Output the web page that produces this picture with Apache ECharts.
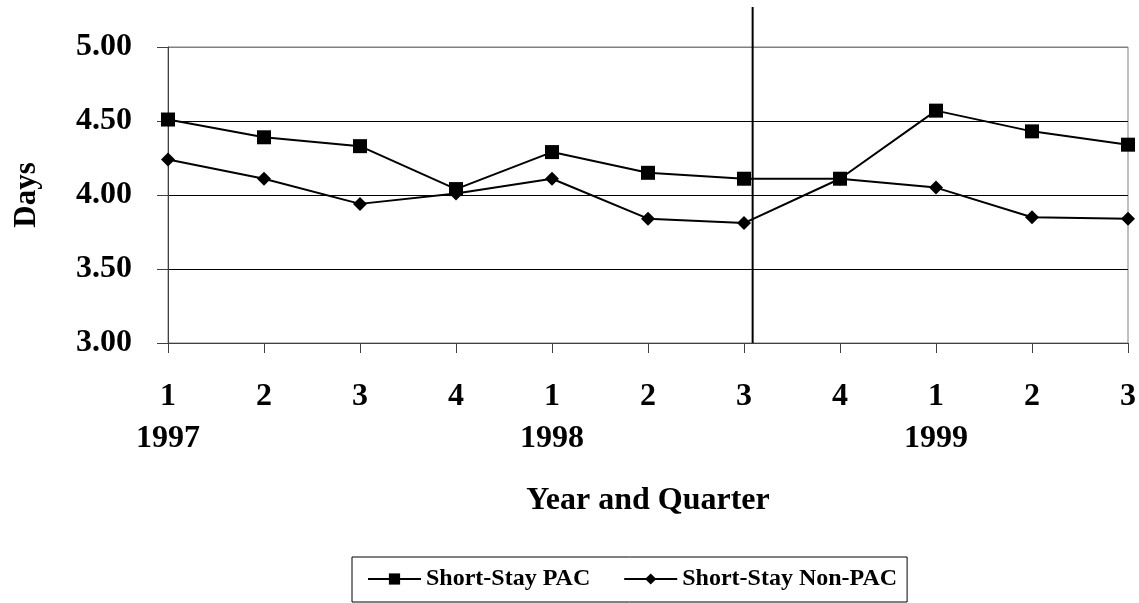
<!DOCTYPE html>
<html>
<head>
<meta charset="utf-8">
<script src="https://cdn.jsdelivr.net/npm/echarts@6/dist/echarts.min.js"></script>
<style>
  html, body { margin: 0; padding: 0; background: #fff; }
  #chart { width: 1139px; height: 603px; }
</style>
</head>
<body>
<div id="chart"></div>
<script>
const quarters = ['1', '2', '3', '4', '1', '2', '3', '4', '1', '2', '3']
const years = ['1997', '', '', '', '1998', '', '', '', '1999', '', '']
const pac = [4.51, 4.39, 4.33, 4.04, 4.29, 4.15, 4.11, 4.11, 4.57, 4.43, 4.34]
const nonPac = [4.24, 4.11, 3.94, 4.01, 4.11, 3.84, 3.81, 4.11, 4.05, 3.85, 3.84]
// divider between 1998 Q3 and Q4 (position in category units)
const dividerX = 6.09
const dividerY = [3.0, 5.27]

const font = '"Liberation Serif", "Times New Roman", serif'

const chart = echarts.init(document.getElementById('chart'))

chart.setOption({
    animation: false,
    grid: {
        left: 168,
        right: 9,
        top: 47,
        bottom: 260,
        show: true,
        borderColor: '#808080',
        borderWidth: 1
    },
    legend: {
        left: 352,
        top: 557,
        data: ['Short-Stay PAC', 'Short-Stay Non-PAC'],
        borderColor: '#000',
        borderWidth: 1,
        borderRadius: 0,
        padding: [10, 10, 11, 15],
        itemGap: 33,
        itemWidth: 53,
        itemHeight: 14,
        textStyle: {
            fontFamily: font,
            fontWeight: 'bold',
            fontSize: 24,
            color: '#000'
        }
    },
    xAxis: [
        {
            type: 'category',
            boundaryGap: false,
            data: quarters.map((q, i) => years[i] ? q + '\n' + years[i] : q),
            name: 'Year and Quarter',
            nameLocation: 'middle',
            nameGap: 142,
            nameTextStyle: {
                fontFamily: font,
                fontWeight: 'bold',
                fontSize: 32,
                color: '#000'
            },
            axisLine: { lineStyle: { color: '#404040', width: 1 } },
            axisTick: { show: true, length: 10, inside: false, lineStyle: { color: '#404040' } },
            axisLabel: {
                interval: 0,
                margin: 33,
                fontFamily: font,
                fontWeight: 'bold',
                fontSize: 32,
                lineHeight: 42,
                color: '#000',
                verticalAlign: 'top'
            },
            splitLine: { show: false }
        },
        {
            type: 'value',
            min: 0,
            max: 10,
            show: false
        }
    ],
    yAxis: {
        type: 'value',
        min: 3,
        max: 5,
        interval: 0.5,
        name: 'Days',
        nameLocation: 'middle',
        nameRotate: 90,
        nameGap: 126,
        nameTextStyle: {
            fontFamily: font,
            fontWeight: 'bold',
            fontSize: 31,
            color: '#000'
        },
        axisLine: { show: true, lineStyle: { color: '#404040', width: 1 } },
        axisTick: { show: true, length: 11, lineStyle: { color: '#404040' } },
        axisLabel: {
            margin: 36,
            formatter: v => v.toFixed(2),
            fontFamily: font,
            fontWeight: 'bold',
            fontSize: 32,
            color: '#000'
        },
        splitLine: {
            show: true,
            lineStyle: { color: ['#000', '#000', '#000', '#000', '#808080'], width: 1 }
        }
    },
    series: [
        {
            name: 'Short-Stay PAC',
            type: 'line',
            data: pac,
            symbol: 'rect',
            symbolSize: 14,
            itemStyle: { color: '#000' },
            lineStyle: { color: '#000', width: 2 },
            z: 3
        },
        {
            name: 'Short-Stay Non-PAC',
            type: 'line',
            data: nonPac,
            symbol: 'diamond',
            symbolSize: 14,
            itemStyle: { color: '#000' },
            lineStyle: { color: '#000', width: 2 },
            z: 3
        },
        {
            name: 'divider',
            type: 'line',
            xAxisIndex: 1,
            data: dividerY.map(y => [dividerX, y]),
            symbol: 'none',
            clip: false,
            lineStyle: { color: '#000', width: 2 },
            z: 4
        }
    ]
})
</script>
</body>
</html>
